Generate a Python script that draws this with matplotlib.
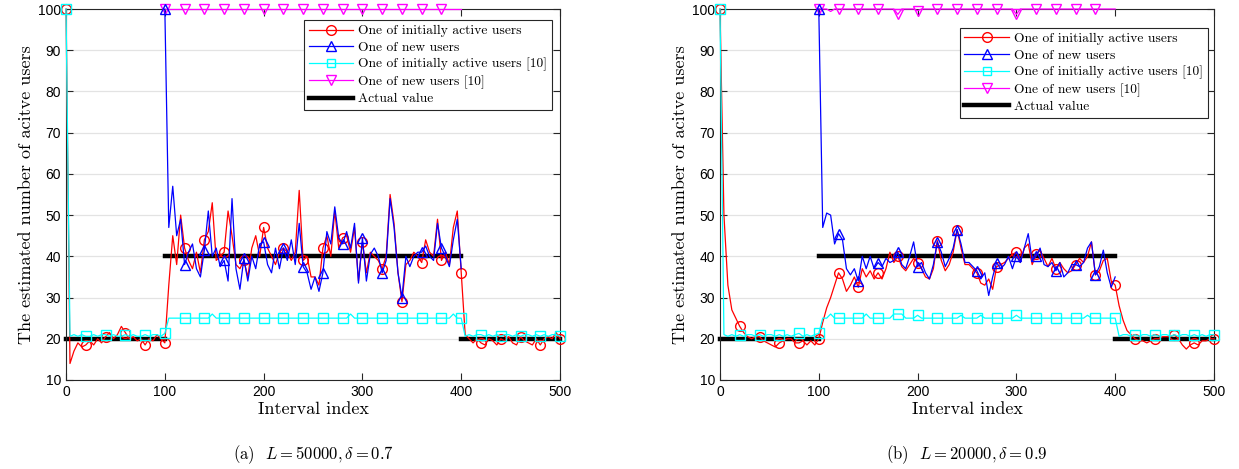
import numpy as np
import matplotlib.pyplot as plt
from matplotlib.lines import Line2D

# interval index grids: initially active users run over 0..500, new users join at 100 and leave at 400
t_all = np.arange(0, 501, 4)
t_new = np.arange(100, 401, 4)

# ---- (a) L = 50000, delta = 0.7 ----
red_a = [100, 14, 17, 19, 18, 18.5, 19.5, 18.5, 20, 19, 20.5, 21.5, 20, 21, 23, 21.5, 20, 20.5, 19.5, 20,
         18.5, 20, 19.5, 21, 20, 19,
         33, 45, 38, 50, 42, 39, 37, 41, 36, 44, 46, 53, 39, 40, 41, 51, 45, 38, 37, 39,
         35, 42, 45, 40, 47, 42, 40, 38, 41, 42, 41, 39, 41, 56, 39, 40, 35,
         35, 33, 42, 45, 40, 51, 42, 44.5, 45, 41, 47, 34, 43.5, 36, 41, 40, 39, 37, 40, 55,
         48, 36, 29, 38, 39, 41, 40, 38.5, 44, 41, 40, 49, 39, 41, 38, 47, 51, 36,
         21, 20, 19, 20, 19, 18.5, 20, 19.5, 18.5, 20, 19.5, 20.5, 19, 18.5, 20.5, 19.5, 19, 18.5, 20, 18.5,
         20, 20.5, 20, 21.5, 20]
blue_a = [100,
          47, 57, 45, 49, 38, 41, 43, 37, 35, 41.5, 51, 40, 42, 37.5, 39, 34, 54, 37, 32, 39.5,
          34, 40, 37, 43, 43.5, 38, 36, 42, 37, 42, 39, 44, 38, 48, 37.5, 36, 32,
          35, 31.5, 36, 46, 43, 52, 44.5, 43, 46, 42, 48, 33.5, 44.5, 34, 40.5, 42, 40, 36, 39, 54,
          47, 36, 30, 40, 37.5, 40, 41, 41, 42.5, 40, 39, 48, 42, 40, 37.5, 44, 49, 37]
cyan_a = [100, 20.6, 21, 20.6, 21, 20.6, 20.6, 21, 20.6, 21, 21, 20.6, 21, 20.6, 20.6, 21, 20.6, 21, 20.6, 20.6,
          21, 20.6, 21, 21, 20.6, 21.3,
          25, 25, 25, 25, 25, 25, 25, 25, 25, 25, 25, 26, 25, 25, 25, 25, 25, 25, 25, 25,
          25, 25, 25, 25, 25, 25, 25, 25, 25, 25, 25, 25, 25, 25, 25, 25, 25,
          25, 25, 25, 25, 25, 25, 25, 25, 25, 26, 25, 25, 25, 25, 25, 25, 25, 25, 25, 25,
          25, 25, 25, 25, 25, 25, 25, 25, 25, 25, 25, 25, 25, 25, 25, 26, 25, 25,
          20.6, 21, 20.6, 21, 21, 20.6, 21, 20.6, 21, 20.6, 21, 21, 20.6, 21, 20.6, 21, 21, 20.6, 21, 20.6,
          21, 20.6, 21, 21, 20.6]
magenta_a = [100, 100, 100, 100, 100, 100, 100, 100, 100, 100, 100, 100, 100, 100, 100, 100, 100, 100, 100,
             100, 100, 100, 100, 100, 100, 100, 100, 100, 100, 100, 100, 100, 100, 100, 100, 100, 100, 100,
             100, 100, 100, 100, 100, 100, 100, 100, 100, 100, 100, 100, 100, 100, 100, 100, 100, 100, 100,
             100, 100, 100, 100, 100, 100, 100, 100, 100, 100, 100, 100, 100, 100, 100, 100, 100, 100, 100]

# ---- (b) L = 20000, delta = 0.9 ----
red_b = [100, 50, 33, 27, 25, 23, 21.5, 20.5, 20, 20.5, 20.5, 19.5, 19, 18.5, 18, 19, 19.5, 20, 20, 19,
         19, 19.5, 18.5, 19.5, 18.5, 20,
         24, 27.5, 30, 33, 36, 34.5, 31.5, 33, 35, 32.5, 37, 35, 36.5, 34.5, 36, 34.5, 37, 41, 38.5, 40,
         37.5, 36.5, 38, 39.5, 38.5, 37, 35, 34.5, 37, 43.8, 39, 36.5, 38, 41, 46.5, 42, 38,
         38, 37, 36, 33.5, 33, 34.5, 32, 37.5, 38, 38.5, 39.5, 40.5, 41, 38.5, 42, 43, 38, 40.5, 41.5, 39.5,
         37.5, 39.5, 37, 38.5, 37, 36, 36.5, 38, 39.5, 38.5, 40, 43.5, 35.5, 36.5, 39, 39.5, 34, 33,
         28, 24.5, 22, 21, 20, 19.5, 19.5, 19, 19.5, 20, 20, 20.5, 20.5, 20.5, 21, 20, 18.5, 17.5, 18.5, 19,
         18.5, 19.5, 19.5, 20, 20]
blue_b = [100,
          47, 50.5, 50, 43, 45.5, 44, 37, 35.5, 37, 34, 40, 37, 40, 37, 38.5, 37.5, 39.5, 38.5, 39, 41,
          38, 37, 40, 43.5, 37.5, 38.5, 36, 34.5, 38, 43.5, 41, 37.5, 39.5, 42, 46.5, 43, 38.5,
          38.5, 37.5, 36.5, 34.5, 36, 30.5, 35, 38.5, 37, 38, 40, 37, 40, 38.5, 42, 45.5, 39, 40, 42, 38,
          37.5, 38.5, 36.5, 38.5, 35, 36, 38, 38, 37.5, 38.5, 42, 43.5, 35.5, 37.5, 41.5, 36, 32.5, 35]
cyan_b = [100, 21, 20.6, 21, 20.6, 21, 20.6, 21, 21, 20.6, 21, 20.6, 21, 21, 20.6, 21, 20.6, 21, 20.6, 21,
          21.3, 20.6, 21, 20.6, 21, 21.3,
          25, 25, 26, 25, 25, 25, 25, 25, 25, 25, 25, 26, 25, 25, 25, 25, 25, 25, 26, 26,
          26, 25, 25, 25, 25.7, 25, 25, 25, 25, 25, 25, 25, 25, 25, 25, 25.7, 25,
          25, 25, 25, 25.7, 25, 25, 25, 25, 25, 25, 25, 25, 25.7, 25, 25, 25, 25, 25, 25, 25,
          25, 25, 25, 25, 25, 25, 25, 25, 25, 25, 25.7, 25, 25, 25, 25, 25, 25, 25,
          20.6, 21, 21, 20.6, 21, 20.6, 21, 21, 20.6, 21, 20.6, 21, 21, 20.6, 21, 20.6, 21, 21, 20.6, 21,
          20.6, 21, 20.6, 21, 21]
magenta_b = [100, 100, 100, 99.4, 100, 100, 100, 100, 100, 100, 100, 100, 100, 100, 100, 100, 100, 100, 100,
             100, 98.7, 100, 100, 100, 100, 99.6, 100, 100, 100, 100, 100, 100, 100, 100, 100, 100, 100, 100,
             100, 100, 100, 100, 100, 100, 100, 100, 100, 100, 100, 100, 98.7, 100, 100, 100, 100, 100, 100,
             100, 100, 100, 100, 100, 100, 100, 100, 100, 100, 100, 100, 100, 100, 100, 100, 100, 100, 100]

# actual number of active users per phase
phase_x = [[0, 100], [100, 400], [400, 500]]
phase_y = [20, 40, 20]

labels = ["One of initially active users", "One of new users",
          "One of initially active users [10]", "One of new users [10]", "Actual value"]
captions = [r"(a)  $L = 50000, \delta = 0.7$", r"(b)  $L = 20000, \delta = 0.9$"]

plt.rcParams["mathtext.fontset"] = "cm"
serif = "cmr10"

fig = plt.figure(figsize=(12.39, 4.69), dpi=100)
ax_a = fig.add_axes([0.0533, 0.1898, 0.3987, 0.791])
ax_b = fig.add_axes([0.5811, 0.1898, 0.3987, 0.791])

panels = [
    (ax_a, red_a, blue_a, cyan_a, magenta_a, (0.984, 0.970)),
    (ax_b, red_b, blue_b, cyan_b, magenta_b, (0.988, 0.949)),
]

ms = 7
lw = 0.9
for i, (ax, red, blue, cyan, mag, anchor) in enumerate(panels):
    new_marks = slice(0, len(t_new) - 1, 5)
    for xs, ys in zip(phase_x, phase_y):
        ax.plot(xs, [ys, ys], color="black", lw=3.2, zorder=2, clip_on=False)
    ax.plot(t_all, red, color="red", lw=lw, marker="o", ms=ms, mfc="none", markevery=5, zorder=3, clip_on=False)
    ax.plot(t_new, blue, color="blue", lw=lw, marker="^", ms=ms, mfc="none", markevery=new_marks, zorder=4,
            clip_on=False)
    ax.plot(t_all, cyan, color="cyan", lw=lw, marker="s", ms=ms, mfc="none", markevery=5, zorder=3,
            clip_on=False)
    ax.plot(t_new, mag, color="magenta", lw=lw, marker="v", ms=ms, mfc="none", markevery=new_marks, zorder=3,
            clip_on=False)

    ax.set_xlim(0, 500)
    ax.set_ylim(10, 100)
    ax.set_xticks(range(0, 501, 100))
    ax.set_yticks(range(10, 101, 10))
    ax.grid(axis="y", color="#e3e3e3", lw=0.9)
    ax.set_axisbelow(True)
    ax.tick_params(direction="in", top=True, right=True, length=5, width=0.8, labelsize=10, colors="#262626")
    for lab in ax.get_xticklabels() + ax.get_yticklabels():
        lab.set_fontfamily("Liberation Sans")
        lab.set_color("black")
    for sp in ax.spines.values():
        sp.set_linewidth(0.8)
        sp.set_color("#262626")
    ax.set_xlabel("Interval index", fontfamily=serif, fontsize=13, labelpad=2)
    ax.set_ylabel("The estimated number of acitve users", fontfamily=serif, fontsize=13, labelpad=3)

    handles = [
        Line2D([], [], color="red", lw=lw, marker="o", ms=ms, mfc="none"),
        Line2D([], [], color="blue", lw=lw, marker="^", ms=ms, mfc="none"),
        Line2D([], [], color="cyan", lw=lw, marker="s", ms=ms - 1, mfc="none"),
        Line2D([], [], color="magenta", lw=lw, marker="v", ms=ms, mfc="none"),
        Line2D([], [], color="black", lw=3.2),
    ]
    leg = ax.legend(handles, labels, loc="upper right", bbox_to_anchor=anchor, borderaxespad=0,
                    prop={"family": serif, "size": 9.7}, frameon=True, fancybox=False, framealpha=1,
                    edgecolor="#262626", handlelength=3.3, handletextpad=0.4, labelspacing=0.3,
                    borderpad=0.35)
    leg.get_frame().set_linewidth(0.8)
    leg.set_zorder(10)

    ax.text(0.5, -0.202, captions[i], transform=ax.transAxes, ha="center", va="center",
            fontfamily=serif, fontsize=12)

fig.savefig("out.png", dpi=100)
